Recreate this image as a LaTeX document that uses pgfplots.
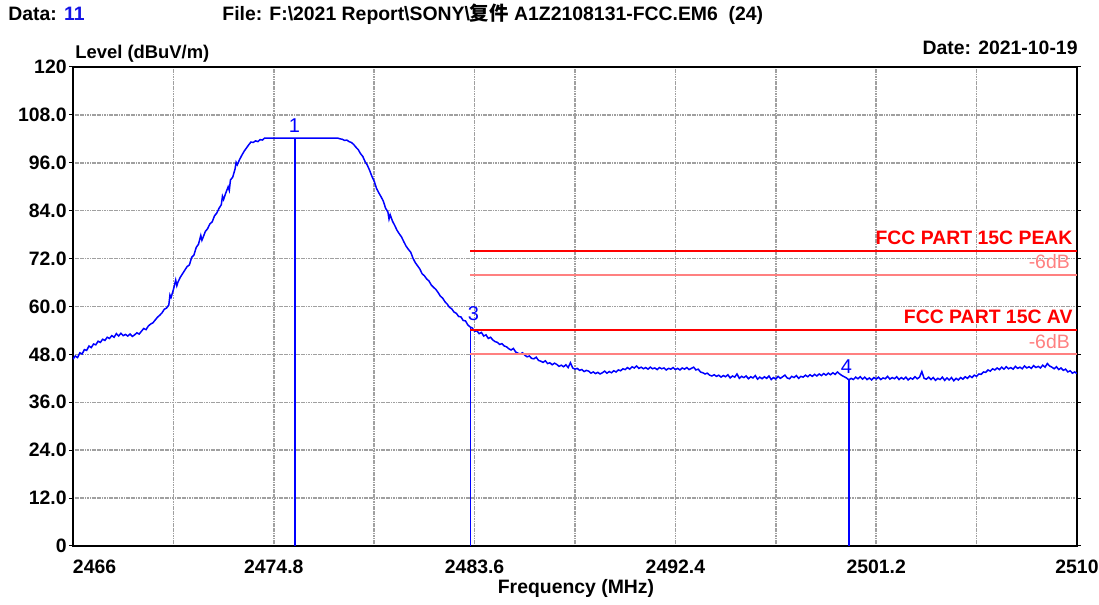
\documentclass[border=0pt]{standalone}
\usepackage{pgfplots}
\pgfplotsset{compat=1.18}
\usepackage{fontspec}
\setmainfont{Liberation Sans}
\newfontfamily\cjk{Noto Sans CJK SC}
\definecolor{trace}{RGB}{0,0,255}
\definecolor{lim}{RGB}{255,0,0}
\definecolor{limsix}{RGB}{255,128,128}
\definecolor{gridc}{RGB}{160,160,160}
\definecolor{datablue}{RGB}{20,20,230}
\newcommand{\bfs}{\fontsize{9.7}{11}\selectfont\bfseries}
\begin{document}
\begin{tikzpicture}
\useasboundingbox (-36.5pt,-29.5pt) rectangle (513pt,273pt);
\begin{axis}[
  scale only axis, width=502pt, height=239.5pt,
  xmin=2466, xmax=2510, ymin=0, ymax=120,
  xtick={2466,2474.8,2483.6,2492.4,2501.2,2510},
  xticklabels={\makebox[0pt][l]{2466},2474.8,2483.6,2492.4,2501.2,2510},
  minor xtick={2470.4,2479.2,2488,2496.8,2505.6},
  ytick={0,12,...,120},
  yticklabels={0,12.0,24.0,36.0,48.0,60.0,72.0,84.0,96.0,108.0,120},
  grid=both,
  major grid style={gridc, dash pattern=on 0.6pt off 0.25pt, line width=0.75pt},
  minor grid style={gridc, dash pattern=on 0.6pt off 0.25pt, line width=0.75pt},
  axis line style={black, line width=0.9pt},
  tick align=outside, major tick length=2pt, minor tick length=0pt,
  ytick style={black, line width=0.5pt},
  xtick style={draw=none},
  ticklabel style={font=\bfs},
  xticklabel style={inner sep=0pt, yshift=-5pt},
  yticklabel style={inner sep=1pt},
  clip=true,
]
\addplot[trace, line width=0.75pt] coordinates {
(2466.0,46.8) (2466.1,47.6) (2466.2,47.2) (2466.3,48.4) (2466.4,48.1) (2466.5,49.2) (2466.6,49.0)
(2466.7,50.1) (2466.8,49.7) (2466.9,50.6) (2467.0,50.4) (2467.1,51.3) (2467.2,51.0) (2467.3,51.8)
(2467.4,51.5) (2467.5,52.3) (2467.6,52.0) (2467.7,52.7) (2467.8,52.3) (2467.9,53.2) (2468.0,52.6)
(2468.1,53.3) (2468.2,52.7) (2468.3,53.0) (2468.4,52.6) (2468.5,53.1) (2468.6,52.5) (2468.7,52.9)
(2468.8,53.4) (2468.9,53.1) (2469.0,53.8) (2469.1,54.5) (2469.2,54.2) (2469.3,55.1) (2469.4,55.6)
(2469.5,55.9) (2469.6,56.6) (2469.7,57.3) (2469.8,57.8) (2469.9,58.4) (2470.0,59.3) (2470.1,59.6)
(2470.2,60.4) (2470.25,62.9) (2470.3,62.3) (2470.4,64.2) (2470.5,66.6) (2470.55,65.2) (2470.6,66.1)
(2470.7,67.3) (2470.8,68.2) (2470.9,69.1) (2471.0,70.0) (2471.1,70.4) (2471.2,72.3) (2471.3,72.9)
(2471.4,74.8) (2471.5,75.6) (2471.6,77.8) (2471.65,76.6) (2471.7,77.3) (2471.8,78.8) (2471.9,79.5)
(2472.0,80.7) (2472.1,81.2) (2472.2,82.7) (2472.3,83.4) (2472.4,84.6) (2472.5,85.5) (2472.55,87.6)
(2472.6,86.8) (2472.7,88.5) (2472.8,90.0) (2472.85,89.1) (2472.9,91.7) (2473.0,92.4) (2473.1,94.4)
(2473.15,96.1) (2473.2,95.5) (2473.3,96.8) (2473.4,97.9) (2473.5,98.9) (2473.6,99.7) (2473.7,100.5)
(2473.8,101.2) (2473.9,101.1) (2474.0,101.5) (2474.1,101.3) (2474.2,101.8) (2474.3,101.7) (2474.4,102.2)
(2477.6,102.2) (2477.7,102.0) (2477.8,101.9) (2477.9,101.6) (2478.0,101.7) (2478.1,101.3) (2478.2,101.1)
(2478.3,100.6) (2478.4,99.9) (2478.5,99.3) (2478.6,98.3) (2478.7,97.6) (2478.8,96.3) (2478.9,95.4)
(2479.0,94.1) (2479.1,92.6) (2479.2,91.4) (2479.3,89.6) (2479.4,88.5) (2479.5,87.5) (2479.6,86.4)
(2479.7,84.6) (2479.8,83.7) (2479.85,81.9) (2479.9,83.0) (2480.0,81.4) (2480.1,80.3) (2480.2,79.1)
(2480.3,78.2) (2480.4,77.4) (2480.5,76.2) (2480.6,75.1) (2480.7,74.3) (2480.8,73.6) (2480.9,72.1)
(2481.0,71.0) (2481.1,70.2) (2481.2,69.4) (2481.3,68.2) (2481.4,67.7) (2481.5,66.9) (2481.6,66.4)
(2481.7,65.4) (2481.8,64.8) (2481.9,64.3) (2482.0,63.5) (2482.1,62.6) (2482.2,62.1) (2482.3,61.2)
(2482.4,60.6) (2482.5,59.8) (2482.6,59.4) (2482.7,58.6) (2482.8,58.3) (2482.9,57.5) (2483.0,57.4)
(2483.1,56.5) (2483.2,56.4) (2483.3,55.4) (2483.4,54.9) (2483.5,54.6) (2483.6,53.8) (2483.7,53.9)
(2483.8,53.2) (2483.9,53.5) (2484.0,52.6) (2484.1,52.9) (2484.2,52.0) (2484.3,52.3) (2484.4,51.6)
(2484.5,51.2) (2484.6,51.0) (2484.7,50.5) (2484.8,50.7) (2484.9,50.1) (2485.0,49.9) (2485.1,49.4)
(2485.2,49.1) (2485.3,49.5) (2485.4,48.6) (2485.5,48.3) (2485.6,48.1) (2485.7,48.4) (2485.8,47.8)
(2485.9,47.4) (2486.0,47.6) (2486.1,47.0) (2486.2,46.9) (2486.3,47.3) (2486.4,46.5) (2486.5,46.3)
(2486.6,46.0) (2486.7,46.4) (2486.8,45.7) (2486.9,45.9) (2487.0,45.4) (2487.1,45.8) (2487.2,45.5)
(2487.3,45.0) (2487.4,45.3) (2487.5,44.9) (2487.6,45.4) (2487.7,44.7) (2487.8,45.9) (2487.9,44.6)
(2488.0,44.3) (2488.1,44.5) (2488.2,44.0) (2488.3,44.2) (2488.4,43.7) (2488.5,44.0) (2488.6,43.8)
(2488.7,43.3) (2488.8,43.6) (2488.9,43.2) (2489.0,43.5) (2489.1,43.1) (2489.2,43.4) (2489.3,43.8)
(2489.4,43.3) (2489.5,43.7) (2489.6,43.4) (2489.7,43.9) (2489.8,43.6) (2489.9,44.1) (2490.0,43.9)
(2490.1,44.4) (2490.2,44.2) (2490.3,44.7) (2490.4,44.3) (2490.5,44.9) (2490.6,44.6) (2490.7,45.1)
(2490.8,44.5) (2490.9,44.8) (2491.0,44.4) (2491.1,44.7) (2491.2,44.3) (2491.3,44.8) (2491.4,44.4)
(2491.5,44.6) (2491.6,44.2) (2491.7,44.7) (2491.8,44.4) (2491.9,44.6) (2492.0,44.1) (2492.1,44.5)
(2492.2,44.3) (2492.3,44.7) (2492.4,44.2) (2492.5,44.5) (2492.6,44.1) (2492.7,44.6) (2492.8,44.3)
(2492.9,44.7) (2493.0,44.2) (2493.1,44.5) (2493.2,44.8) (2493.3,44.1) (2493.4,44.3) (2493.5,43.6)
(2493.6,43.4) (2493.7,43.1) (2493.8,43.3) (2493.9,42.8) (2494.0,42.6) (2494.1,42.9) (2494.2,42.5)
(2494.3,42.8) (2494.4,42.3) (2494.5,42.7) (2494.6,42.4) (2494.7,42.9) (2494.8,42.1) (2494.9,42.6)
(2495.0,42.3) (2495.1,43.1) (2495.2,42.0) (2495.3,42.5) (2495.4,42.2) (2495.5,42.6) (2495.6,41.9)
(2495.7,42.4) (2495.8,42.1) (2495.9,42.7) (2496.0,41.8) (2496.1,42.3) (2496.2,41.9) (2496.3,42.4)
(2496.4,42.0) (2496.5,42.6) (2496.6,41.7) (2496.7,42.2) (2496.8,41.8) (2496.9,42.5) (2497.0,42.0)
(2497.1,42.4) (2497.2,42.8) (2497.3,42.1) (2497.4,41.9) (2497.5,42.5) (2497.6,42.2) (2497.7,42.7)
(2497.8,42.0) (2497.9,42.5) (2498.0,42.3) (2498.1,42.8) (2498.2,42.4) (2498.3,42.9) (2498.4,42.5)
(2498.5,43.0) (2498.6,42.6) (2498.7,43.1) (2498.8,42.7) (2498.9,43.2) (2499.0,42.8) (2499.1,43.3)
(2499.2,42.9) (2499.3,43.4) (2499.4,43.0) (2499.5,43.6) (2499.6,43.1) (2499.7,42.7) (2499.8,42.4)
(2499.9,42.1) (2500.0,41.6) (2500.1,42.0) (2500.2,41.7) (2500.3,42.3) (2500.4,41.9) (2500.5,42.4)
(2500.6,41.8) (2500.7,42.3) (2500.8,41.7) (2500.9,42.1) (2501.0,41.6) (2501.1,42.2) (2501.2,41.8)
(2501.3,42.3) (2501.4,41.7) (2501.5,42.1) (2501.6,41.9) (2501.7,42.5) (2501.8,41.8) (2501.9,42.2)
(2502.0,41.9) (2502.1,42.4) (2502.2,41.7) (2502.3,42.2) (2502.4,41.8) (2502.5,42.3) (2502.6,41.6)
(2502.7,42.1) (2502.8,41.8) (2502.9,42.4) (2503.0,41.9) (2503.1,42.3) (2503.2,43.7) (2503.3,42.0)
(2503.4,41.8) (2503.5,42.3) (2503.6,41.7) (2503.7,42.2) (2503.8,41.5) (2503.9,42.0) (2504.0,41.7)
(2504.1,42.3) (2504.2,41.5) (2504.3,42.1) (2504.4,41.6) (2504.5,42.2) (2504.6,41.4) (2504.7,42.0)
(2504.8,41.6) (2504.9,42.2) (2505.0,41.8) (2505.1,42.4) (2505.2,42.0) (2505.3,42.6) (2505.4,42.2)
(2505.5,42.8) (2505.6,42.5) (2505.7,43.1) (2505.8,43.0) (2505.9,43.6) (2506.0,43.5) (2506.1,44.1)
(2506.2,43.8) (2506.3,44.4) (2506.4,44.1) (2506.5,44.6) (2506.6,44.2) (2506.7,44.8) (2506.8,44.3)
(2506.9,44.9) (2507.0,44.4) (2507.1,44.7) (2507.2,44.3) (2507.3,45.0) (2507.4,44.5) (2507.5,44.8)
(2507.6,44.4) (2507.7,45.1) (2507.8,44.6) (2507.9,44.9) (2508.0,44.5) (2508.1,45.2) (2508.2,44.7)
(2508.3,45.0) (2508.4,44.6) (2508.5,45.3) (2508.6,44.8) (2508.7,45.7) (2508.8,45.1) (2508.9,44.8)
(2509.0,44.4) (2509.1,44.9) (2509.2,44.2) (2509.3,44.6) (2509.4,44.0) (2509.5,44.3) (2509.6,43.6)
(2509.7,43.9) (2509.8,43.3) (2509.9,43.6) (2510.0,43.2)
};
% markers
\addplot[trace, line width=0.75pt] coordinates {(2475.74,0) (2475.74,102.2)};
\addplot[trace, line width=0.75pt] coordinates {(2483.42,0) (2483.42,54.9)};
\addplot[trace, line width=0.75pt] coordinates {(2500.0,0) (2500.0,41.6)};
% limits
\addplot[lim, line width=1pt] coordinates {(2483.42,74) (2510,74)};
\addplot[limsix, line width=1pt] coordinates {(2483.42,68) (2510,68)};
\addplot[lim, line width=1pt] coordinates {(2483.42,54) (2510,54)};
\addplot[limsix, line width=1pt] coordinates {(2483.42,48) (2510,48)};
\node[trace, font=\fontsize{10}{11}\selectfont, inner sep=0pt] at (axis cs:2475.7,105.3) {1};
\node[trace, font=\fontsize{10}{11}\selectfont, inner sep=0pt] at (axis cs:2483.55,58.3) {3};
\node[trace, font=\fontsize{10}{11}\selectfont, inner sep=0pt] at (axis cs:2499.9,44.9) {4};
\node[lim, font=\bfs, anchor=east, inner sep=0pt] at (axis cs:2509.82,77.2) {FCC PART 15C PEAK};
\node[limsix, font=\fontsize{9.7}{11}\selectfont, anchor=east, inner sep=0pt] at (axis cs:2509.7,71.2) {-6dB};
\node[lim, font=\bfs, anchor=east, inner sep=0pt] at (axis cs:2509.82,57.4) {FCC PART 15C AV};
\node[limsix, font=\fontsize{9.7}{11}\selectfont, anchor=east, inner sep=0pt] at (axis cs:2509.7,51.1) {-6dB};
\end{axis}
\node[font=\bfs, anchor=west, inner sep=0pt] at (-32.5pt,266pt) {Data: \textcolor{datablue}{11}};
\node[font=\bfs, anchor=west, inner sep=0pt] at (74.5pt,266pt) {File: F:\textbackslash 2021 Report\textbackslash SONY\textbackslash{\cjk 复件} A1Z2108131-FCC.EM6\ \ (24)};
\node[font=\fontsize{9.2}{11}\selectfont\bfseries, anchor=west, inner sep=0pt] at (1pt,246pt) {Level (dBuV/m)};
\node[font=\bfs, anchor=east, inner sep=0pt] at (502.5pt,249pt) {Date: 2021-10-19};
\node[font=\bfs, inner sep=0pt] at (251.5pt,-21pt) {Frequency (MHz)};
\end{tikzpicture}
\end{document}
